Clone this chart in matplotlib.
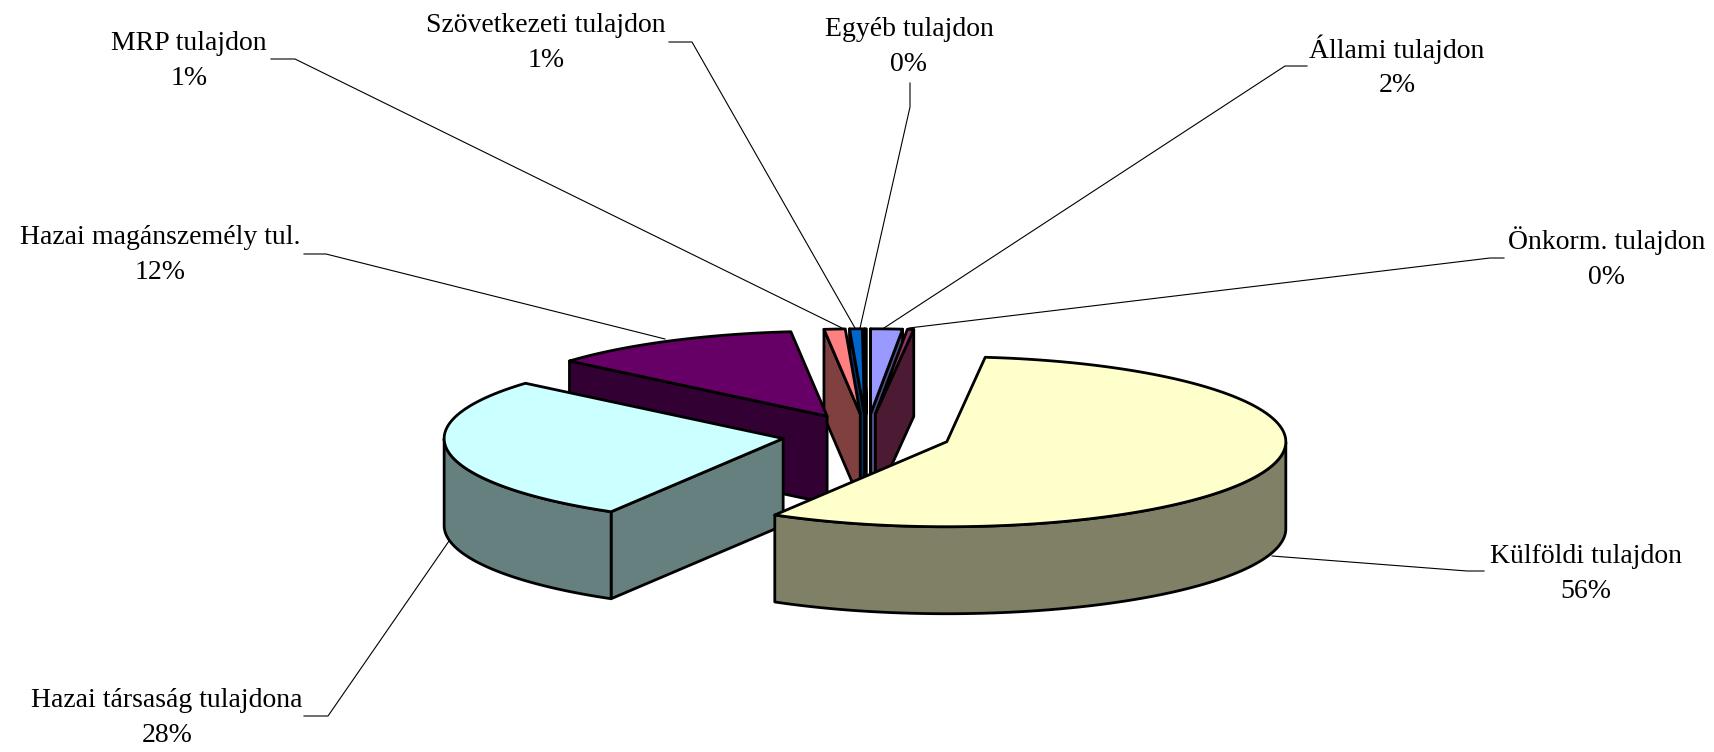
import numpy as np
import matplotlib
matplotlib.use("Agg")
import matplotlib.pyplot as plt
from matplotlib.patches import Polygon

plt.rcParams['font.family'] = ['Liberation Serif', 'DejaVu Serif']

names = ["Külföldi tulajdon", "Hazai társaság tulajdona", "Hazai magánszemély tul.",
         "MRP tulajdon", "Szövetkezeti tulajdon", "Egyéb tulajdon",
         "Állami tulajdon", "Önkorm. tulajdon"]
values = [56.49, 27.7, 12.0, 1.0, 0.6, 0.1, 1.5, 0.3]

top_colors = ["#FFFFCC", "#CCFFFF", "#660066", "#FF8080", "#0066CC", "#CCCCFF", "#9999FF", "#993366"]
wall_colors = ["#808066", "#668080", "#330033", "#804040", "#003366", "#666680", "#4D4D80", "#4D1A33"]

# pixel layout of the pie, y goes down
cx, cy = 866.6, 435
rx, ry = 339, 85
depth = 87
explode = 84.6
start_angle = 83.5

# small slices from the middle outwards, then the big ones in front
draw_order = [5, 4, 6, 3, 7, 2, 1, 0]

label_pos = [(1586, 574), (167, 718), (160, 255), (189, 61),
             (546, 43), (909, 47), (1397, 66), (1607, 258)]
leaders = [[(1272, 556), (1467, 571), (1484, 571)],
           [(449, 541), (328, 716), (304, 716)],
           [(665, 339), (326, 254), (304, 254)],
           [(842, 328), (295, 59), (271, 59)],
           [(855, 328), (692, 42), (669, 42)],
           [(860, 328), (910, 107), (910, 83)],
           [(884, 328), (1285, 66), (1307, 66)],
           [(909, 328), (1490, 258), (1504, 258)]]

fig = plt.figure(figsize=(17.15, 7.52), dpi=100)
ax = fig.add_axes([0, 0, 1, 1])
ax.set_xlim(0, 1715)
ax.set_ylim(752, 0)
ax.axis('off')

sweep = np.array(values) / sum(values) * 360
ends = start_angle - np.cumsum(sweep)
starts = ends + sweep


def rim(a, ox, oy):
    a = np.radians(a)
    return np.column_stack([ox + rx * np.cos(a), oy - ry * np.sin(a)])


def add_poly(pts, color, z):
    ax.add_patch(Polygon(pts, closed=True, facecolor=color, edgecolor='black',
                         linewidth=2.0, joinstyle='round', zorder=z))


z = 2
for i in draw_order:
    a0, a1 = starts[i], ends[i]
    mid = np.radians((a0 + a1) / 2)
    ox = cx + explode * np.cos(mid)
    oy = cy - explode * ry / rx * np.sin(mid)
    apex = np.array([[ox, oy]])
    down = np.array([0, depth])

    # flat cut faces that look towards the viewer
    if np.cos(np.radians(a0)) < 0:
        p = rim(np.array([a0]), ox, oy)
        add_poly(np.vstack([apex, p, p + down, apex + down]), wall_colors[i], z)
        z += 1
    if np.cos(np.radians(a1)) > 0:
        p = rim(np.array([a1]), ox, oy)
        add_poly(np.vstack([apex, p, p + down, apex + down]), wall_colors[i], z)
        z += 1

    # outer curved wall, only the front half shows
    front = np.linspace(a1, a0, 200)
    front = front[np.sin(np.radians(front)) < 0]
    if len(front) > 1:
        arc = rim(front, ox, oy)
        add_poly(np.vstack([arc, (arc + down)[::-1]]), wall_colors[i], z)
        z += 1

    top = rim(np.linspace(a0, a1, 200), ox, oy)
    add_poly(np.vstack([apex, top]), top_colors[i], z)
    z += 1

for pts in leaders:
    pts = np.array(pts)
    ax.plot(pts[:, 0], pts[:, 1], color='black', linewidth=0.8, zorder=1)

for name, v, pos in zip(names, values, label_pos):
    ax.text(pos[0], pos[1], f"{name}\n{round(v)}%", ha='center', va='center',
            fontsize=20, linespacing=1.5, color='black')

fig.savefig("out.png", dpi=100)
